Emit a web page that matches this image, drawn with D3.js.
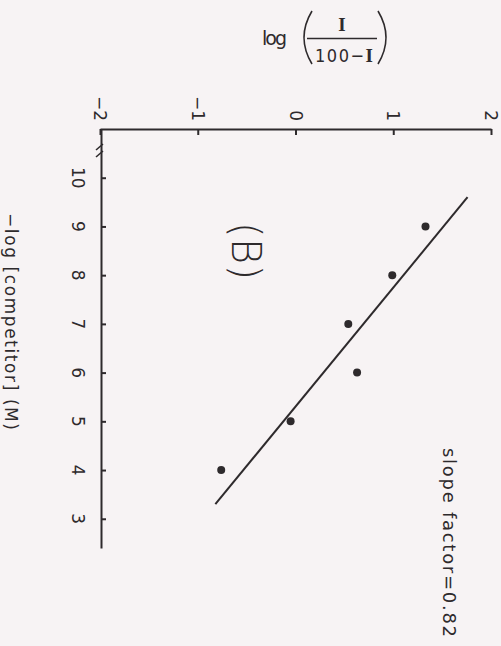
<!DOCTYPE html>
<html>
<head>
<meta charset="utf-8">
<script src="https://cdn.jsdelivr.net/npm/d3@7"></script>
<style>
  html, body { margin: 0; padding: 0; background: #f7f3f4; }
  svg { display: block; }
  .axis path, .axis line { stroke: #2e2a2c; stroke-width: 2; }
  text { fill: #2e2a2c; }
</style>
</head>
<body>
<svg id="chart" width="501" height="646"></svg>
<script>
// -log[competitor] (M) for each measured point
var competitor = [9, 8, 7, 6, 5, 4];
// log(I / (100 - I))
var logRatio = [1.33, 0.99, 0.54, 0.63, -0.05, -0.76];
// end points of the fitted line
var fitCompetitor = [3.3, 9.6];
var fitRatio = [-0.82, 1.76];
// tick labels
var ratioTicks = [-2, -1, 0, 1, 2];
var competitorTicks = [10, 9, 8, 7, 6, 5, 4, 3];

var ink = "#2e2a2c";
var svg = d3.select("#chart");

// the figure is turned on its side: the ratio runs across, the competitor runs down
var x = d3.scaleLinear().domain([-2, 2]).range([100, 491]);
var y = d3.scaleLinear().domain([11, 2.4]).range([129, 548]);

var fmt = function(v) { return v < 0 ? "\u2212" + Math.abs(v) : String(v); };

// top axis
svg.append("g")
  .attr("class", "axis")
  .attr("transform", "translate(0,129)")
  .call(d3.axisTop(x).tickValues(ratioTicks).tickSize(-6).tickSizeOuter(0).tickFormat(""));

svg.selectAll(".rlabel")
  .data(ratioTicks)
  .enter().append("text")
  .attr("class", "rlabel")
  .attr("transform", function(d) { return "translate(" + x(d) + ",121) rotate(90)"; })
  .attr("text-anchor", "end")
  .attr("dominant-baseline", "central")
  .style("font", "17px 'DejaVu Sans', sans-serif")
  .text(fmt);

// left axis
svg.append("g")
  .attr("class", "axis")
  .attr("transform", "translate(101,0)")
  .call(d3.axisLeft(y).tickValues(competitorTicks).tickSize(-5).tickSizeOuter(0).tickFormat(""));

svg.selectAll(".clabel")
  .data(competitorTicks)
  .enter().append("text")
  .attr("class", "clabel")
  .attr("transform", function(d) { return "translate(78," + y(d) + ") rotate(90)"; })
  .attr("text-anchor", "middle")
  .attr("dominant-baseline", "central")
  .style("font", "17px 'DejaVu Sans', sans-serif")
  .text(String);

// axis break
[0, 7].forEach(function(o) {
  svg.append("line")
    .attr("x1", 96).attr("y1", 150 + o)
    .attr("x2", 103).attr("y2", 144 + o)
    .attr("stroke", ink).attr("stroke-width", 1.6);
});

// fitted line
var line = d3.line()
  .x(function(d) { return x(d[1]); })
  .y(function(d) { return y(d[0]); });

svg.append("path")
  .datum(d3.zip(fitCompetitor, fitRatio))
  .attr("d", line)
  .attr("fill", "none")
  .attr("stroke", ink)
  .attr("stroke-width", 2);

// points
svg.selectAll(".dot")
  .data(d3.zip(competitor, logRatio))
  .enter().append("circle")
  .attr("class", "dot")
  .attr("cx", function(d) { return x(d[1]); })
  .attr("cy", function(d) { return y(d[0]); })
  .attr("r", 4)
  .attr("fill", ink);

// labels
svg.append("text")
  .attr("transform", "translate(246,251) rotate(90)")
  .attr("text-anchor", "middle")
  .attr("dominant-baseline", "central")
  .attr("textLength", 58)
  .style("font", "300 40px 'DejaVu Sans', sans-serif")
  .text("(B)");

svg.append("text")
  .attr("transform", "translate(449,448) rotate(90)")
  .attr("dominant-baseline", "central")
  .attr("textLength", 189)
  .attr("lengthAdjust", "spacing")
  .style("font", "18px 'DejaVu Sans', sans-serif")
  .text("slope  factor=0.82");

svg.append("text")
  .attr("transform", "translate(11,213) rotate(90)")
  .attr("dominant-baseline", "central")
  .attr("textLength", 217)
  .attr("lengthAdjust", "spacing")
  .style("font", "17px 'DejaVu Sans', sans-serif")
  .text("\u2212log [competitor] (M)");

// title: log( I / (100 - I) )
var title = svg.append("g");
title.append("text")
  .attr("x", 262).attr("y", 45)
  .style("font", "19px 'DejaVu Sans', sans-serif")
  .attr("textLength", 25)
  .text("log");
title.append("path")
  .attr("d", "M312,11 Q296,37.5 312,64")
  .attr("fill", "none").attr("stroke", ink).attr("stroke-width", 1.6);
title.append("path")
  .attr("d", "M378,11 Q394,37.5 378,64")
  .attr("fill", "none").attr("stroke", ink).attr("stroke-width", 1.6);
title.append("line")
  .attr("x1", 307).attr("x2", 377).attr("y1", 38.5).attr("y2", 38.5)
  .attr("stroke", ink).attr("stroke-width", 1.6);
title.append("text")
  .attr("x", 342).attr("y", 31)
  .attr("text-anchor", "middle")
  .style("font", "bold 19px 'Liberation Serif', serif")
  .text("I");
var den = title.append("text")
  .attr("x", 315).attr("y", 62)
  .attr("textLength", 58)
  .attr("lengthAdjust", "spacing")
  .style("font", "18px 'DejaVu Sans Condensed', 'DejaVu Sans', sans-serif");
den.append("tspan").text("100\u2212");
den.append("tspan").style("font", "bold 19px 'Liberation Serif', serif").text("I");
</script>
</body>
</html>
